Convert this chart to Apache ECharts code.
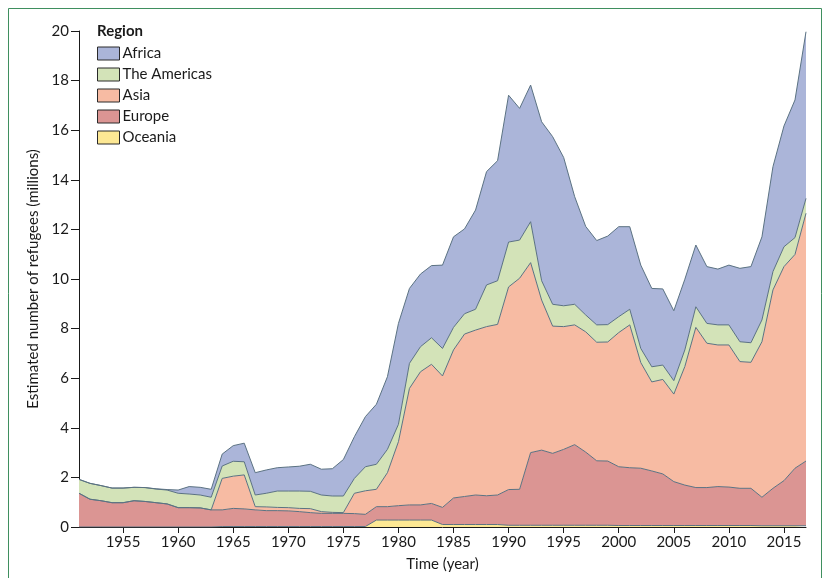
<!DOCTYPE html>
<html>
<head>
<meta charset="utf-8">
<script src="https://cdn.jsdelivr.net/npm/echarts@6/dist/echarts.min.js"></script>
<style>
html,body{margin:0;padding:0;background:#fff;}
#chart{width:827px;height:578px;}
</style>
</head>
<body>
<div id="chart"></div>
<script>
// Years 1951–2017
const years = [];
for (let y = 1951; y <= 2017; y++) years.push(String(y));

const yTicks = [0, 2, 4, 6, 8, 10, 12, 14, 16, 18, 20];

const oceania = [
  0,0,0,0,0,0,0,0,0,0,0,0,0,
  0.02,0.02,0.02,0.02,0.02,0.02,0.02,0.02,0.02,0.02,0.02,0.02,0.02,0.02,
  0.28,0.28,0.28,0.28,0.28,0.28,
  0.1,0.1,0.1,0.1,0.1,0.1,
  0.07,0.07,0.07,0.07,0.07,0.07,0.07,0.07,0.07,0.07,
  0.06,0.06,0.06,0.06,0.06,0.06,0.06,0.06,0.06,0.06,0.06,0.06,0.06,
  0.05,0.05,0.05,0.05,0.05
];

const europe = [
  1.36,1.12,1.06,0.98,0.98,1.06,1.03,0.98,0.93,0.78,
  0.78,0.77,0.69,0.67,0.73,0.71,0.67,0.64,0.64,0.63,
  0.60,0.56,0.53,0.53,0.53,0.52,0.49,0.54,0.54,0.58,
  0.61,0.61,0.67,0.69,1.07,1.13,1.19,1.16,1.19,1.44,
  1.45,2.93,3.03,2.90,3.06,3.25,2.95,2.60,2.59,2.37,
  2.33,2.31,2.20,2.08,1.77,1.63,1.53,1.53,1.57,1.55,
  1.50,1.50,1.15,1.51,1.82,2.32,2.61
];

const asia = [
  0,0,0,0,0,0,0,0,0,0,
  0,0,0,1.27,1.30,1.37,0.13,0.15,0.13,0.13,
  0.13,0.16,0.07,0.04,0.03,0.82,0.95,0.70,1.37,2.58,
  4.70,5.37,5.61,5.30,5.97,6.55,6.65,6.82,6.88,8.17,
  8.51,7.66,6.05,5.13,4.95,4.83,4.85,4.78,4.80,5.41,
  5.76,4.26,3.59,3.81,3.53,4.78,6.46,5.82,5.71,5.73,
  5.11,5.08,6.27,8.00,8.63,8.62,9.99
];

const americas = [
  0.56,0.64,0.61,0.59,0.59,0.54,0.56,0.55,0.56,0.58,
  0.55,0.52,0.51,0.50,0.60,0.53,0.47,0.55,0.66,0.67,
  0.70,0.70,0.67,0.66,0.67,0.60,0.97,1.01,0.94,0.70,
  1.01,1.01,1.07,1.11,0.91,0.82,0.84,1.68,1.76,1.81,
  1.54,1.65,0.78,0.88,0.84,0.83,0.68,0.70,0.70,0.64,
  0.63,0.57,0.61,0.58,0.54,0.67,0.83,0.80,0.81,0.81,
  0.80,0.79,0.88,0.74,0.80,0.68,0.60
];

const africa = [
  0,0,0,0,0,0,0,0.01,0.02,0.13,
  0.30,0.31,0.32,0.48,0.63,0.75,0.90,0.94,0.94,0.97,
  1.00,1.09,1.04,1.10,1.47,1.68,2.02,2.42,2.93,4.07,
  3.02,2.93,2.91,3.36,3.65,3.42,4.00,4.57,4.84,5.92,
  5.31,5.51,6.41,6.76,5.98,4.34,3.57,3.40,3.57,3.63,
  3.33,3.36,3.16,3.07,2.82,2.85,2.49,2.29,2.25,2.41,
  2.96,3.07,3.35,4.23,4.87,5.55,6.72
];

const FONT = 'Lato, "Open Sans", sans-serif';
const LINE = '#5b7282';

function mk(name, data, fill) {
  return {
    name: name,
    type: 'line',
    stack: 'total',
    data: data,
    symbol: 'none',
    smooth: false,
    color: fill,
    itemStyle: { color: fill },
    lineStyle: { color: LINE, width: 1 },
    areaStyle: { color: fill, opacity: 1 },
    emphasis: { disabled: true }
  };
}

const chart = echarts.init(document.getElementById('chart'), null, { renderer: 'canvas' });
chart.setOption({
  animation: false,
  backgroundColor: '#ffffff',
  textStyle: { fontFamily: FONT },
  graphic: [
    {
      type: 'rect',
      shape: { x: 8.5, y: 8.5, width: 813, height: 620 },
      style: { fill: 'none', stroke: '#3f8f5f', lineWidth: 1 },
      silent: true
    },
    {
      type: 'text',
      left: 97, top: 24,
      style: { text: 'Region', font: 'bold 15px ' + FONT, fill: '#1a1a1a' }
    }
  ],
  legend: {
    orient: 'vertical',
    left: 92,
    top: 41,
    itemWidth: 22,
    itemHeight: 13,
    itemGap: 6,
    icon: 'rect',
    itemStyle: { borderColor: '#2a2a2a', borderWidth: 1 },
    textStyle: { fontFamily: FONT, fontSize: 15, color: '#1a1a1a', padding: [0, 0, 0, -2] },
    data: ['Africa', 'The Americas', 'Asia', 'Europe', 'Oceania']
  },
  grid: { left: 79, right: 21, top: 31, bottom: 51, containLabel: false },
  xAxis: {
    type: 'category',
    data: years,
    boundaryGap: false,
    name: 'Time (year)',
    nameLocation: 'middle',
    nameGap: 30,
    nameTextStyle: { fontFamily: FONT, fontSize: 15, color: '#1a1a1a' },
    axisLine: { show: true, lineStyle: { color: '#1a1a1a', width: 1 } },
    axisTick: {
      show: true,
      length: 6,
      interval: function (i, v) { return Number(v) % 5 === 0; },
      lineStyle: { color: '#1a1a1a' }
    },
    axisLabel: {
      interval: function (i, v) { return Number(v) % 5 === 0; },
      fontFamily: FONT, fontSize: 15, color: '#1a1a1a', margin: 8
    },
    splitLine: { show: false }
  },
  yAxis: {
    type: 'value',
    min: yTicks[0],
    max: yTicks[yTicks.length - 1],
    interval: 2,
    name: 'Estimated number of refugees (millions)',
    nameLocation: 'middle',
    nameGap: 31,
    nameTextStyle: { fontFamily: FONT, fontSize: 15, color: '#1a1a1a' },
    axisLine: { show: true, lineStyle: { color: '#1a1a1a', width: 1 } },
    axisTick: { show: true, length: 8, lineStyle: { color: '#1a1a1a' } },
    axisLabel: { fontFamily: FONT, fontSize: 15, color: '#1a1a1a', margin: 10 },
    splitLine: { show: false }
  },
  series: [
    mk('Oceania', oceania, '#fde894'),
    mk('Europe', europe, '#db9593'),
    mk('Asia', asia, '#f7bba3'),
    mk('The Americas', americas, '#d3e3b8'),
    mk('Africa', africa, '#abb5d9')
  ]
});
</script>
</body>
</html>
